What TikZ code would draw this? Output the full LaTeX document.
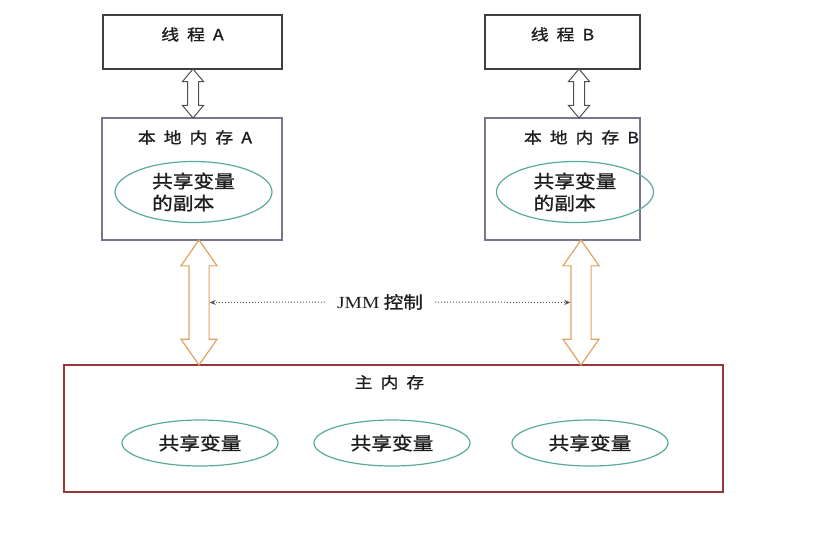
\documentclass[tikz,border=0pt]{standalone}
\usepackage{fontspec}
\setmainfont{Noto Sans CJK SC}[FakeStretch=1.15, FakeBold=1.2]
\newfontfamily\jmmfont{Liberation Serif}[FakeStretch=1.15]
\usetikzlibrary{shapes.geometric, shapes.arrows, arrows.meta, positioning, calc}

\definecolor{threadgray}{HTML}{3F3F3F}
\definecolor{localpurple}{HTML}{7D7290}
\definecolor{mainred}{HTML}{963838}
\definecolor{ellteal}{HTML}{5AAA9C}
\definecolor{arrgray}{HTML}{505050}
\definecolor{arrorange}{HTML}{E2A263}
\definecolor{dotgray}{HTML}{555555}
\definecolor{textgray}{HTML}{1E1E1E}

\newcommand{\gap}{\hspace{8pt}}

\begin{document}
\begin{tikzpicture}[
  x=1pt, y=-1pt,
  thread/.style={draw=threadgray, line width=1.2pt, minimum height=54pt, inner sep=0pt},
  localmem/.style={draw=localpurple, line width=1.1pt, minimum height=122pt, inner sep=0pt},
  mainmem/.style={draw=mainred, line width=1.4pt, minimum width=659pt, minimum height=127pt, inner sep=0pt},
  title/.style={font=\fontsize{15.5}{18}\selectfont, text=textgray, inner sep=0pt},
  copyvar/.style={ellipse, draw=ellteal, line width=1.2pt, minimum width=157pt, minimum height=61pt,
    inner sep=0pt, align=left, text=textgray, font=\fontsize{18}{22}\selectfont},
  sharedvar/.style={ellipse, draw=ellteal, line width=1.2pt, minimum width=156pt, minimum height=46pt,
    inner sep=0pt, text=textgray, font=\fontsize{18}{22}\selectfont},
  smallarr/.style={double arrow, draw=arrgray, fill=white, line width=1pt, rotate=90,
    text height=10pt, text depth=0pt, minimum height=49pt, double arrow head extend=5pt,
    double arrow tip angle=80, inner sep=0pt},
  bigarr/.style={double arrow, draw=arrorange, fill=white, line width=1.2pt, rotate=90,
    text height=19pt, text depth=0pt, minimum height=125pt, double arrow head extend=8pt,
    double arrow tip angle=70, inner sep=0pt},
  ctrl/.style={draw=dotgray, line width=1pt, dotted, -{Stealth[length=6pt, width=5pt]}}
  ]
  \useasboundingbox (0,0) rectangle (820,539);

  % threads
  \node[thread, minimum width=179pt] (thA) at (192.5,42) {};
  \node[thread, minimum width=155pt] (thB) at (562.5,42) {};
  \node[title] (thAt) at ($(thA.north)+(0,20)$) {线\gap 程\gap A};
  \node[title] (thBt) at ($(thB.north)+(0,20)$) {线\gap 程\gap B};

  % local memories
  \node[localmem, minimum width=180pt] (locA) at (192,179) {};
  \node[localmem, minimum width=155pt] (locB) at (562.5,179) {};
  \node[title] (locAt) at ($(locA.north)+(3,20)$) {本\gap 地\gap 内\gap 存\gap A};
  \node[title] (locBt) at ($(locB.north)+(19,20)$) {本\gap 地\gap 内\gap 存\gap B};
  \node[copyvar] (cpA) at (193.5,192) {共享变量\\的副本};
  \node[copyvar] (cpB) at (575,192) {共享变量\\的副本};

  % main memory
  \node[mainmem] (mainM) at (393.5,428.5) {};
  \node[title] (mainMt) at ($(mainM.north)+(-4,18)$) {主\gap 内\gap 存};
  \node[sharedvar] (sv1) at (200,443) {共享变量};
  \node[sharedvar] (sv2) at (392,443) {共享变量};
  \node[sharedvar] (sv3) at (590,443) {共享变量};

  % arrows
  \node[smallarr] (swA) at (193,93.5) {};
  \node[smallarr] (swB) at (579,93.5) {};
  \node[bigarr] (bigA) at (199,302.5) {};
  \node[bigarr] (bigB) at (581,302.5) {};

  % jmm
  \node[inner sep=12pt, text=textgray, font=\fontsize{17}{20}\selectfont] (jmm) at (380,302) {{\jmmfont JMM} 控制};
  \draw[ctrl] (jmm.west) -- (bigA);
  \draw[ctrl] (jmm.east) -- (bigB);
\end{tikzpicture}
\end{document}
